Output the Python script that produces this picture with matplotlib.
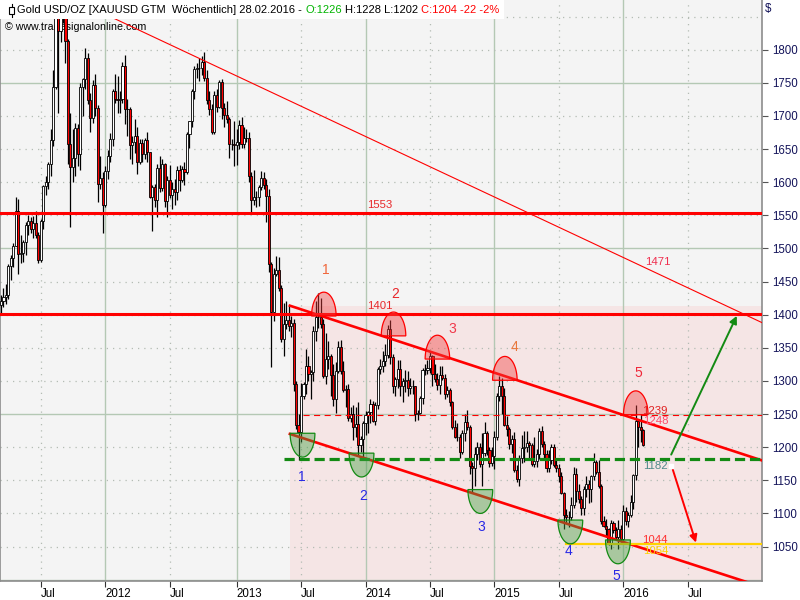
import numpy as np
import pandas as pd
import matplotlib
matplotlib.use("Agg")
import matplotlib.pyplot as plt
from matplotlib.patches import Polygon, Rectangle
from matplotlib.lines import Line2D

plt.rcParams['font.family'] = ['Liberation Sans', 'DejaVu Sans']

# weekly OHLC, XAUUSD, weeks starting 2011-03-13 (open = previous close)
first_open = 1415
close_2011 = [1420, 1427, 1429, 1474, 1486, 1504, 1556, 1491, 1493, 1510, 1536, 1542, 1529, 1538, 1521, 1483, 1542, 1594, 1601, 1628, 1663,
              1743, 1852, 1828, 1880, 1856, 1813, 1657, 1623, 1636, 1682, 1642, 1744, 1755, 1788, 1724, 1697, 1747, 1712, 1598, 1606, 1565]
high_2011 = [1430, 1440, 1446, 1476, 1490, 1508, 1577, 1575, 1520, 1512, 1540, 1550, 1548, 1549, 1557, 1525, 1545, 1595, 1609, 1630, 1681,
             1770, 1881, 1913, 1890, 1921, 1870, 1816, 1705, 1680, 1690, 1688, 1750, 1758, 1802, 1795, 1734, 1754, 1764, 1717, 1640, 1616]
low_2011 = [1400, 1412, 1416, 1424, 1452, 1472, 1503, 1462, 1478, 1480, 1490, 1520, 1524, 1515, 1516, 1478, 1480, 1530, 1580, 1590, 1610,
            1655, 1740, 1705, 1812, 1840, 1780, 1627, 1532, 1600, 1610, 1625, 1618, 1700, 1740, 1718, 1675, 1690, 1700, 1570, 1590, 1523]

close_2012 = [1617, 1640, 1665, 1738, 1725, 1724, 1725, 1775, 1710, 1710, 1656, 1661, 1669, 1631, 1659, 1642, 1663, 1645, 1578, 1592, 1573,
              1622, 1591, 1627, 1572, 1604, 1580, 1590, 1585, 1619, 1604, 1620, 1616, 1672, 1692, 1738, 1771, 1773, 1772, 1781, 1758, 1724,
              1711, 1676, 1731, 1714, 1751, 1712, 1702, 1696, 1658, 1658, 1656]
high_2012 = [1625, 1648, 1674, 1740, 1764, 1760, 1738, 1781, 1792, 1725, 1714, 1670, 1695, 1683, 1665, 1665, 1666, 1676, 1646, 1596, 1598,
             1627, 1640, 1635, 1629, 1610, 1626, 1600, 1605, 1625, 1626, 1625, 1630, 1675, 1693, 1740, 1775, 1780, 1787, 1791, 1796, 1770,
             1737, 1718, 1737, 1740, 1754, 1755, 1720, 1722, 1699, 1665, 1693]
low_2012 = [1562, 1605, 1630, 1655, 1720, 1705, 1705, 1720, 1688, 1670, 1635, 1627, 1644, 1612, 1627, 1630, 1635, 1630, 1576, 1527, 1562,
            1547, 1585, 1587, 1562, 1548, 1576, 1560, 1565, 1573, 1586, 1600, 1596, 1612, 1652, 1684, 1725, 1757, 1752, 1762, 1752, 1718,
            1702, 1672, 1672, 1706, 1712, 1696, 1684, 1690, 1636, 1648, 1625]

close_2013 = [1661, 1687, 1658, 1667, 1667, 1610, 1573, 1577, 1577, 1592, 1606, 1596, 1579, 1476, 1404, 1462, 1468, 1440, 1364, 1386, 1392,
              1383, 1387, 1296, 1234, 1223, 1278, 1296, 1322, 1310, 1313, 1376, 1396, 1396, 1386, 1308, 1333, 1337, 1309, 1272, 1315, 1351,
              1315, 1286, 1288, 1244, 1250, 1231, 1235, 1204, 1212, 1237]
high_2013 = [1680, 1694, 1698, 1683, 1680, 1675, 1615, 1619, 1587, 1595, 1617, 1616, 1605, 1590, 1480, 1470, 1488, 1487, 1445, 1417, 1420,
             1415, 1398, 1394, 1300, 1250, 1297, 1299, 1348, 1338, 1316, 1383, 1420, 1433, 1425, 1394, 1372, 1360, 1340, 1325, 1328, 1361,
             1362, 1330, 1294, 1296, 1260, 1263, 1261, 1268, 1217, 1240]
low_2013 = [1626, 1650, 1652, 1652, 1660, 1600, 1554, 1565, 1562, 1564, 1588, 1590, 1540, 1465, 1321, 1390, 1458, 1435, 1359, 1338, 1378,
            1375, 1366, 1285, 1227, 1180, 1208, 1272, 1280, 1300, 1272, 1300, 1360, 1380, 1380, 1305, 1295, 1318, 1278, 1262, 1251, 1312,
            1310, 1283, 1260, 1240, 1238, 1211, 1216, 1186, 1193, 1182]

close_2014 = [1248, 1253, 1265, 1240, 1263, 1318, 1323, 1330, 1339, 1379, 1336, 1293, 1303, 1318, 1293, 1300, 1302, 1290, 1293, 1292, 1250,
              1252, 1274, 1316, 1317, 1320, 1337, 1310, 1303, 1294, 1309, 1305, 1280, 1287, 1268, 1230, 1216, 1215, 1192, 1222, 1238, 1231,
              1171, 1169, 1189, 1201, 1175, 1191, 1222, 1196, 1176, 1186]
high_2014 = [1255, 1255, 1272, 1270, 1268, 1321, 1333, 1345, 1355, 1385, 1392, 1340, 1306, 1332, 1331, 1305, 1316, 1315, 1305, 1302, 1293,
             1256, 1278, 1320, 1325, 1332, 1345, 1339, 1325, 1312, 1322, 1322, 1311, 1292, 1290, 1270, 1241, 1237, 1220, 1226, 1250, 1256,
             1234, 1178, 1200, 1208, 1207, 1221, 1238, 1225, 1200, 1200]
low_2014 = [1218, 1222, 1236, 1238, 1234, 1257, 1310, 1314, 1322, 1335, 1325, 1282, 1277, 1290, 1277, 1268, 1283, 1277, 1280, 1281, 1240,
            1241, 1250, 1265, 1309, 1311, 1312, 1292, 1298, 1287, 1281, 1302, 1273, 1276, 1262, 1228, 1214, 1210, 1183, 1190, 1210, 1226,
            1160, 1132, 1142, 1180, 1170, 1142, 1187, 1188, 1170, 1172]

close_2015 = [1216, 1277, 1293, 1278, 1234, 1228, 1205, 1213, 1166, 1152, 1183, 1199, 1201, 1207, 1203, 1175, 1179, 1189, 1225, 1205, 1189,
              1168, 1181, 1201, 1173, 1168, 1157, 1131, 1097, 1095, 1094, 1113, 1160, 1134, 1122, 1108, 1137, 1145, 1137, 1156, 1177, 1163,
              1142, 1088, 1081, 1077, 1056, 1086, 1075, 1065, 1076, 1061]
high_2015 = [1224, 1282, 1307, 1305, 1290, 1247, 1230, 1219, 1223, 1173, 1188, 1219, 1224, 1224, 1210, 1206, 1215, 1198, 1229, 1232, 1210,
             1196, 1196, 1205, 1205, 1180, 1175, 1162, 1132, 1106, 1104, 1125, 1170, 1169, 1145, 1126, 1142, 1156, 1150, 1158, 1191, 1180,
             1180, 1145, 1096, 1091, 1078, 1090, 1089, 1079, 1090, 1082]
low_2015 = [1167, 1211, 1270, 1250, 1232, 1217, 1197, 1191, 1162, 1147, 1142, 1176, 1178, 1193, 1183, 1172, 1170, 1170, 1182, 1200, 1181,
            1162, 1162, 1175, 1170, 1162, 1148, 1130, 1077, 1085, 1080, 1090, 1108, 1118, 1115, 1098, 1098, 1125, 1115, 1117, 1150, 1160,
            1138, 1084, 1080, 1065, 1052, 1046, 1070, 1061, 1046, 1057]

close_2016 = [1103, 1089, 1097, 1118, 1158, 1239, 1230, 1226, 1204]
high_2016 = [1112, 1110, 1102, 1128, 1160, 1263, 1240, 1250, 1228]
low_2016 = [1060, 1082, 1080, 1095, 1107, 1151, 1200, 1208, 1202]

# drawn levels and marks (x = week number, y = price)
level_1553 = 1553
level_1401 = 1400.6
level_1248 = 1249
level_1182 = 1182
level_1054 = 1054
trend_x = [29.8, 306.9]
trend_y = [1875, 1388]
chan_x = [116.5, 306.9]
chan_top = [1413.6, 1180]
chan_bot = [1220, 989]
top_marks_x = [130.2, 158.3, 176.0, 203.2, 256.0]
top_marks_y = [1398, 1368, 1333, 1301, 1249]
top_labels = ['1', '2', '3', '4', '5']
top_label_x = [131.0, 158.9, 181.9, 206.9, 256.9]
top_label_y = [1467, 1431, 1378, 1351, 1312]
top_label_col = ['#f0663a', '#e8262a', '#f0384a', '#e8763a', '#f0283a']
bot_marks_x = [121.6, 145.4, 193.3, 229.6, 248.8]
bot_marks_y = [1221, 1191, 1136, 1090, 1060]
bot_label_x = [121.4, 146.0, 193.5, 229.0, 248.0]
bot_label_y = [1155, 1127, 1080, 1044, 1006]

closes = np.array(close_2011 + close_2012 + close_2013 + close_2014 + close_2015 + close_2016, dtype=float)
highs = np.array(high_2011 + high_2012 + high_2013 + high_2014 + high_2015 + high_2016, dtype=float)
lows = np.array(low_2011 + low_2012 + low_2013 + low_2014 + low_2015 + low_2016, dtype=float)
opens = np.concatenate([[first_open], closes[:-1]])
idx = np.arange(len(closes))

weeks = pd.date_range('2011-03-13', periods=300, freq='7D')

fig = plt.figure(figsize=(8, 6), dpi=100)
fig.patch.set_facecolor('white')
ax = fig.add_axes([0, 19 / 600, 762 / 800, 581 / 600])
ax.set_facecolor('#f4f4f4')
ax.set_xlim(-0.4, 306.9)
ax.set_ylim(998, 1875)

# grid (labels only up to Jul 2016)
tick_pos, tick_lab = [], []
for i in range(1, 290):
    if weeks[i].month != weeks[i - 1].month and weeks[i].month in (1, 7):
        tick_pos.append(i)
        tick_lab.append('Jul' if weeks[i].month == 7 else str(weeks[i].year))
for p, lab in zip(tick_pos, tick_lab):
    if lab == 'Jul':
        ax.axvline(p, color='#b4bcb4', lw=0.9, ls=(0, (1, 4)), zorder=0.5)
    else:
        ax.axvline(p, color='#b4c8b4', lw=1.0, zorder=0.5)
for v in range(1000, 1900, 50):
    if v % 250 == 0:
        ax.axhline(v, color='#b4c8b4', lw=1.0, zorder=0.5)
    else:
        ax.axhline(v, color='#b4bcb4', lw=0.9, ls=(0, (1, 4)), zorder=0.5)

# channel background
ax.add_patch(Rectangle((chan_x[0], 990), chan_x[1] - chan_x[0], chan_top[0] - 990,
                       facecolor='#f5e5e5', edgecolor='none', zorder=0.4))

ax.text(0.007, 1 - 27 / 581, '\u00a9 www.tradesignalonline.com', transform=ax.transAxes,
        fontsize=7.7, color='black', va='center', ha='left', zorder=1)

# candles
up = closes >= opens
ax.vlines(idx, lows, highs, color='black', lw=0.9, zorder=3)
ax.bar(idx, np.abs(closes - opens), bottom=np.minimum(opens, closes), width=0.85,
       color=np.where(up, 'white', '#ff0000'), edgecolor='black', linewidth=0.6, zorder=3.5)

# lines
ax.axhline(level_1553, color='#ff0000', lw=2.2, zorder=4)
ax.axhline(level_1401, color='#ff0000', lw=2.2, zorder=4)
ax.plot(trend_x, trend_y, color='#ff0000', lw=0.8, zorder=4)
ax.plot(chan_x, chan_top, color='#ff0000', lw=1.9, zorder=4)
ax.plot(chan_x, chan_bot, color='#ff0000', lw=1.9, zorder=4)
ax.plot([121.8, 306.9], [level_1248, level_1248], color='#ff0000', lw=0.8, ls=(0, (5.5, 4)), zorder=4)
ax.plot([114, 306.9], [level_1182, level_1182], color='#138a13', lw=2.3, ls=(0, (3.2, 1.5)), zorder=4)
ax.plot([227.8, 306.9], [level_1054, level_1054], color='#ffd200', lw=1.6, zorder=4)

# marks
t = np.linspace(0, np.pi, 40)
for cx, cy in zip(top_marks_x, top_marks_y):
    pts = np.column_stack([cx + 4.95 * np.cos(t), cy + 36 * np.sin(t)])
    ax.add_patch(Polygon(pts, closed=True, facecolor=(0.95, 0.25, 0.25, 0.42), edgecolor='#ff0000', lw=0.9, zorder=5))
for cx, cy in zip(bot_marks_x, bot_marks_y):
    pts = np.column_stack([cx + 5.0 * np.cos(t), cy - 36 * np.sin(t)])
    ax.add_patch(Polygon(pts, closed=True, facecolor=(0.25, 0.62, 0.25, 0.42), edgecolor='#138a13', lw=0.9, zorder=5))
for x, y, s, c in zip(top_label_x, top_label_y, top_labels, top_label_col):
    ax.text(x, y, s, color=c, fontsize=10, ha='center', va='center', zorder=6)
for x, y, s in zip(bot_label_x, bot_label_y, top_labels):
    ax.text(x, y, s, color='#2828e6', fontsize=10, ha='center', va='center', zorder=6)

lab_kw = dict(fontsize=8.2, ha='left', va='center', zorder=6)
ax.text(147.5, 1566, '1553', color='#e8282a', **lab_kw)
ax.text(147.5, 1413, '1401', color='#e8282a', **lab_kw)
ax.text(259.7, 1480, '1471', color='#f03050', **lab_kw)
ax.text(258.6, 1255, '1239', color='#e02020', **lab_kw)
ax.text(258.9, 1239, '1248', color='#ff4a6a', **lab_kw)
ax.text(258.9, 1172, '1182', color='#4f8a8a', **lab_kw)
ax.text(258.6, 1060, '1044', color='#ff3030', **lab_kw)
ax.text(258.9, 1044, '1054', color='#ffd200', **lab_kw)

ax.annotate('', xy=(297.2, 1402), xytext=(269.8, 1185),
            arrowprops=dict(arrowstyle='-|>', color='#138a13', lw=1.4, mutation_scale=11), zorder=6)
ax.annotate('', xy=(280.6, 1052), xytext=(270.6, 1170),
            arrowprops=dict(arrowstyle='-|>', color='#ff0000', lw=1.4, mutation_scale=11), zorder=6)
ax.plot([270.2], [1172], marker='s', ms=3, color='white', zorder=6)

# axes
ax.yaxis.tick_right()
ax.set_yticks(range(1050, 1801, 50))
ax.tick_params(axis='y', length=4, width=0.8, color='#555555', labelcolor='#14145a', labelsize=8.3, pad=3)
ax.set_xticks(tick_pos)
ax.set_xticklabels(tick_lab)
ax.tick_params(axis='x', length=4, width=0.8, color='#333333', labelcolor='black', labelsize=8.3, pad=1)
for lab in ax.get_xticklabels():
    lab.set_ha('left')
for s in ax.spines.values():
    s.set_color('#8c8c8c')
    s.set_linewidth(1.2)
ax.spines['top'].set_visible(False)
fig.text(765 / 800, 1 - 9 / 600, '$', fontsize=8.3, color='#14145a', va='center', ha='left')

# header
fig.canvas.draw()
r = fig.canvas.get_renderer()
hk = dict(fontsize=8.0, va='center', ha='left', zorder=11)
w_aa = fig.text(0, 0, 'aa', **hk)
w_a_a = fig.text(0, 0, 'a a', **hk)
sp = w_a_a.get_window_extent(r).width - w_aa.get_window_extent(r).width
w_aa.remove()
w_a_a.remove()
parts = [('Gold USD/OZ [XAUUSD GTM  W\u00f6chentlich] 28.02.2016 -', 'black'),
         ('O:1226', '#00b400'), ('H:1228 L:1202', 'black'), ('C:1204 -22 -2%', '#ff0000')]
x = 17.0
for txt, col in parts:
    tt = fig.text(x / 800, 1 - 10 / 600, txt, color=col, **hk)
    x += tt.get_window_extent(r).width + sp
fig.patches.append(Rectangle((0, 1 - 19 / 600), (x + 2) / 800, 19 / 600, transform=fig.transFigure,
                             facecolor='white', edgecolor='none', zorder=10))
fig.add_artist(Line2D([11.5 / 800, 11.5 / 800], [1 - 4 / 600, 1 - 17 / 600], color='black', lw=0.8, zorder=11))
fig.patches.append(Rectangle((9 / 800, 1 - 13.5 / 600), 5 / 800, 6 / 600, transform=fig.transFigure,
                             facecolor='white', edgecolor='black', lw=0.8, zorder=11))

fig.savefig('out.png', dpi=100)
